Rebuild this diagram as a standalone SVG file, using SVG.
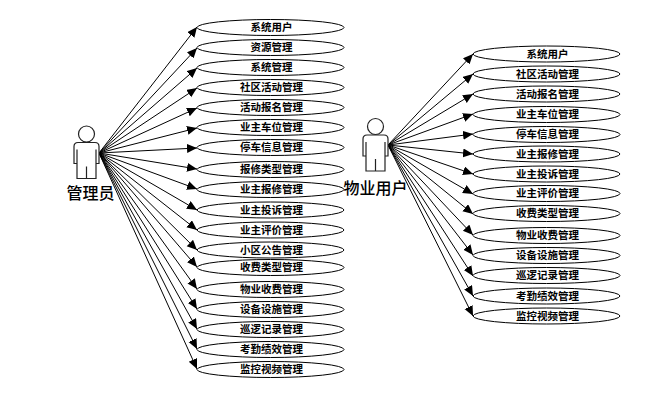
<svg xmlns="http://www.w3.org/2000/svg" width="653" height="410" viewBox="0 0 653 410">
<defs>
<marker id="a" markerUnits="userSpaceOnUse" markerWidth="12" markerHeight="10" refX="10" refY="4.500" orient="auto"><path d="M0 0L10 4.500L0 9z" fill="#000"/></marker>
<g id="actor"><circle cx="0" cy="-8.500" r="8"/><path d="M-8.500 0H8.500Q12.500 0 12.500 4V21H9.500V7M9.500 21V36H-9.500V7M-9.500 21H-12.500V4Q-12.500 0 -8.500 0M0 36V24"/></g>
</defs>
<style>
text{font-family:"Noto Sans CJK SC","Noto Sans",sans-serif;text-anchor:middle;fill:#000}
.u text{font-size:10.500px;font-weight:700}
.u ellipse{fill:#fff;stroke:#000;stroke-width:1}
.c line{stroke:#000;stroke-width:1;marker-end:url(#a)}
.ac{fill:#fff;stroke:#222;stroke-width:1.200}
.l{font-size:16px;font-weight:500}
</style>
<rect width="653" height="410" fill="#fff"/>
<g id="connectors" class="c">
<line x1="99" y1="153" x2="197" y2="27"/><line x1="99" y1="153" x2="197" y2="48"/><line x1="99" y1="153" x2="197" y2="68"/><line x1="99" y1="153" x2="197" y2="88"/><line x1="99" y1="153" x2="197" y2="108"/><line x1="99" y1="153" x2="197" y2="128"/><line x1="99" y1="153" x2="197" y2="148"/><line x1="99" y1="153" x2="197" y2="169"/><line x1="99" y1="153" x2="197" y2="189"/><line x1="99" y1="153" x2="197" y2="210"/><line x1="99" y1="153" x2="197" y2="230"/><line x1="99" y1="153" x2="197" y2="250"/><line x1="99" y1="153" x2="197" y2="267"/><line x1="99" y1="153" x2="197" y2="289"/><line x1="99" y1="153" x2="197" y2="309"/><line x1="99" y1="153" x2="197" y2="329"/><line x1="99" y1="153" x2="197" y2="349"/><line x1="99" y1="153" x2="197" y2="369"/>
<line x1="388" y1="145" x2="473" y2="54"/><line x1="388" y1="145" x2="473" y2="74"/><line x1="388" y1="145" x2="473" y2="94"/><line x1="388" y1="145" x2="473" y2="114"/><line x1="388" y1="145" x2="473" y2="134"/><line x1="388" y1="145" x2="473" y2="154"/><line x1="388" y1="145" x2="473" y2="174"/><line x1="388" y1="145" x2="473" y2="194"/><line x1="388" y1="145" x2="473" y2="214"/><line x1="388" y1="145" x2="473" y2="235"/><line x1="388" y1="145" x2="473" y2="255"/><line x1="388" y1="145" x2="473" y2="276"/><line x1="388" y1="145" x2="473" y2="296"/><line x1="388" y1="145" x2="473" y2="316"/>
</g>
<g id="admin"><use href="#actor" x="86.500" y="142.500" class="ac"/><text class="l" x="90.500" y="199">管理员</text></g>
<g id="staff"><use href="#actor" x="375.500" y="135" class="ac"/><text class="l" x="375.500" y="194">物业用户</text></g>
<g class="u">
<g id="a1"><ellipse cx="270.500" cy="27.500" rx="73.500" ry="8"/><text x="271.500" y="31">系统用户</text></g>
<g id="a2"><ellipse cx="270.500" cy="47.500" rx="73.500" ry="8"/><text x="271.500" y="51">资源管理</text></g>
<g id="a3"><ellipse cx="270.500" cy="67.500" rx="73.500" ry="8"/><text x="271.500" y="71">系统管理</text></g>
<g id="a4"><ellipse cx="270.500" cy="87.500" rx="73.500" ry="8"/><text x="271.500" y="91">社区活动管理</text></g>
<g id="a5"><ellipse cx="270.500" cy="107.500" rx="73.500" ry="8"/><text x="271.500" y="111">活动报名管理</text></g>
<g id="a6"><ellipse cx="270.500" cy="127.500" rx="73.500" ry="8"/><text x="271.500" y="131">业主车位管理</text></g>
<g id="a7"><ellipse cx="270.500" cy="147.500" rx="73.500" ry="8"/><text x="271.500" y="151">停车信息管理</text></g>
<g id="a8"><ellipse cx="270.500" cy="169.500" rx="73.500" ry="8"/><text x="271.500" y="173">报修类型管理</text></g>
<g id="a9"><ellipse cx="270.500" cy="189.500" rx="73.500" ry="8"/><text x="271.500" y="193">业主报修管理</text></g>
<g id="a10"><ellipse cx="270.500" cy="210" rx="73.500" ry="8"/><text x="271.500" y="214">业主投诉管理</text></g>
<g id="a11"><ellipse cx="270.500" cy="230" rx="73.500" ry="8"/><text x="271.500" y="234">业主评价管理</text></g>
<g id="a12"><ellipse cx="270.500" cy="250" rx="73.500" ry="8"/><text x="271.500" y="254">小区公告管理</text></g>
<g id="a13"><ellipse cx="270.500" cy="267.500" rx="73.500" ry="8"/><text x="271.500" y="271">收费类型管理</text></g>
<g id="a14"><ellipse cx="270.500" cy="289.500" rx="73.500" ry="8"/><text x="271.500" y="293">物业收费管理</text></g>
<g id="a15"><ellipse cx="270.500" cy="309.500" rx="73.500" ry="8"/><text x="271.500" y="313">设备设施管理</text></g>
<g id="a16"><ellipse cx="270.500" cy="329.500" rx="73.500" ry="8"/><text x="271.500" y="333">巡逻记录管理</text></g>
<g id="a17"><ellipse cx="270.500" cy="349.500" rx="73.500" ry="8"/><text x="271.500" y="353">考勤绩效管理</text></g>
<g id="a18"><ellipse cx="270.500" cy="369.500" rx="73.500" ry="8"/><text x="271.500" y="373">监控视频管理</text></g>
<g id="s1"><ellipse cx="546.500" cy="54" rx="73.500" ry="8"/><text x="547.500" y="58">系统用户</text></g>
<g id="s2"><ellipse cx="546.500" cy="74" rx="73.500" ry="8"/><text x="547.500" y="78">社区活动管理</text></g>
<g id="s3"><ellipse cx="546.500" cy="94" rx="73.500" ry="8"/><text x="547.500" y="98">活动报名管理</text></g>
<g id="s4"><ellipse cx="546.500" cy="114.500" rx="73.500" ry="8"/><text x="547.500" y="118">业主车位管理</text></g>
<g id="s5"><ellipse cx="546.500" cy="134.500" rx="73.500" ry="8"/><text x="547.500" y="138">停车信息管理</text></g>
<g id="s6"><ellipse cx="546.500" cy="154" rx="73.500" ry="8"/><text x="547.500" y="158">业主报修管理</text></g>
<g id="s7"><ellipse cx="546.500" cy="174" rx="73.500" ry="8"/><text x="547.500" y="178">业主投诉管理</text></g>
<g id="s8"><ellipse cx="546.500" cy="193.500" rx="73.500" ry="8"/><text x="547.500" y="197">业主评价管理</text></g>
<g id="s9"><ellipse cx="546.500" cy="213.500" rx="73.500" ry="8"/><text x="547.500" y="217">收费类型管理</text></g>
<g id="s10"><ellipse cx="546.500" cy="235.500" rx="73.500" ry="8"/><text x="547.500" y="239">物业收费管理</text></g>
<g id="s11"><ellipse cx="546.500" cy="255.500" rx="73.500" ry="8"/><text x="547.500" y="259">设备设施管理</text></g>
<g id="s12"><ellipse cx="546.500" cy="275.500" rx="73.500" ry="8"/><text x="547.500" y="279">巡逻记录管理</text></g>
<g id="s13"><ellipse cx="546.500" cy="296" rx="73.500" ry="8"/><text x="547.500" y="300">考勤绩效管理</text></g>
<g id="s14"><ellipse cx="546.500" cy="316" rx="73.500" ry="8"/><text x="547.500" y="320">监控视频管理</text></g>
</g>
</svg>
